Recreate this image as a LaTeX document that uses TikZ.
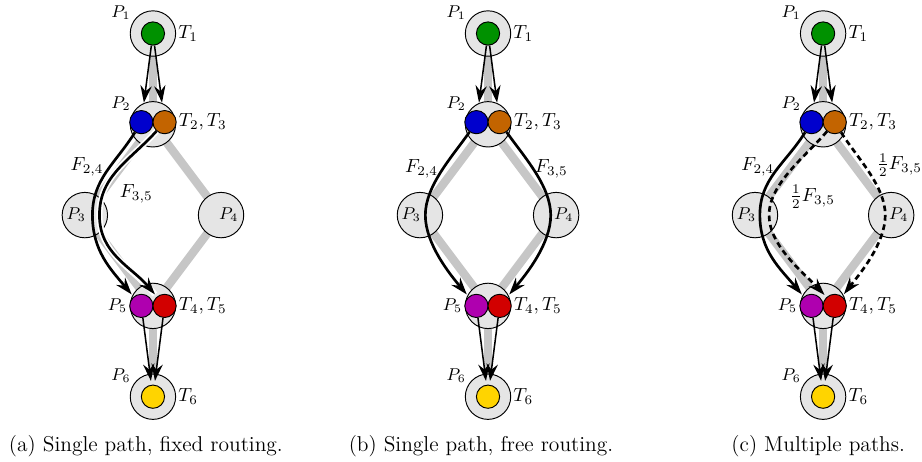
\documentclass[tikz,border=0pt]{standalone}
\usetikzlibrary{arrows.meta,backgrounds}

\definecolor{tgreen}{RGB}{0,145,0}
\definecolor{tblue}{RGB}{0,0,205}
\definecolor{torange}{RGB}{195,100,0}
\definecolor{tpurple}{RGB}{175,0,175}
\definecolor{tred}{RGB}{210,0,0}
\definecolor{tyellow}{RGB}{255,212,0}

% processors, links and tasks, all names start with #1
\newcommand{\platform}[1]{
  \node [proc] (#1p1) at (0,6.72) {};
  \node [proc] (#1p2) at (0,5.04) {};
  \node [proc] (#1p3) at (-1.26,3.36) {};
  \node [proc] (#1p4) at (1.26,3.36) {};
  \node [proc] (#1p5) at (0,1.68) {};
  \node [proc] (#1p6) at (0,0) {};
  \begin{pgfonlayer}{background}
    \path[link] (#1p1.center) -- (#1p2.center);
    \path[link] (#1p2.center) -- (#1p3.center);
    \path[link] (#1p2.center) -- (#1p4.center);
    \path[link] (#1p3.center) -- (#1p5.center);
    \path[link] (#1p4.center) -- (#1p5.center);
    \path[link] (#1p5.center) -- (#1p6.center);
  \end{pgfonlayer}
  \node [task,fill=tgreen] (#1t1) at (#1p1) {};
  \node [task,fill=tblue] (#1t2) at ([shift={(-0.215,0.04)}]#1p2.center) {};
  \node [task,fill=torange] (#1t3) at ([shift={(0.215,0.04)}]#1p2.center) {};
  \node [task,fill=tpurple] (#1t4) at ([xshift=-0.215cm]#1p5.center) {};
  \node [task,fill=tred] (#1t5) at ([xshift=0.215cm]#1p5.center) {};
  \node [task,fill=tyellow] (#1t6) at (#1p6) {};
  \node [plab,anchor=south east] (#1n1) at (#1p1.150) {$P_1$};
  \node [plab,anchor=south east] (#1n2) at (#1p2.150) {$P_2$};
  \node [plab] (#1n3) at ([xshift=-0.16cm]#1p3.center) {$P_3$};
  \node [plab] (#1n4) at ([xshift=0.14cm]#1p4.center) {$P_4$};
  \node [plab,anchor=east] (#1n5) at (#1t4.west) {$P_5$};
  \node [plab,anchor=south east] (#1n6) at (#1p6.150) {$P_6$};
  \node [tlab] (#1m1) at (#1p1.east) {$T_1$};
  \node [tlab] (#1m2) at (#1t3.east) {$T_2, T_3$};
  \node [tlab] (#1m3) at (#1t5.east) {$T_4, T_5$};
  \node [tlab] (#1m4) at (#1p6.east) {$T_6$};
  \draw[flow,shorten >=4pt] (#1t1) -- (#1t2);
  \draw[flow,shorten >=4pt] (#1t1) -- (#1t3);
  \draw[flow,shorten >=2pt] (#1t4) -- (#1t6);
  \draw[flow,shorten >=2pt] (#1t5) -- (#1t6);
}

\begin{document}
\begin{tikzpicture}[shorten >=1.5pt,>={Stealth[length=9pt,width=6pt,inset=3pt]}]
  \tikzstyle{proc}=[circle,draw=black,line width=0.5pt,fill=black!10,minimum size=8.4mm,inner sep=0pt]
  \tikzstyle{task}=[circle,draw=black,line width=0.5pt,minimum size=4.3mm,inner sep=0pt]
  \tikzstyle{link}=[draw=gray!45,line width=4.4pt]
  \tikzstyle{plab}=[font=\small,inner sep=1pt]
  \tikzstyle{tlab}=[anchor=west,inner sep=1pt]
  \tikzstyle{flow}=[draw,->,line width=0.8pt]
  \tikzstyle{route}=[draw,->,line width=1.4pt]
  \tikzstyle{split}=[route,dash pattern=on 3pt off 2pt]
  \tikzstyle{halo}=[preaction={draw=white,-,line width=3.2pt}]
  \tikzstyle{subcap}=[anchor=base,font=\fontsize{11.3}{13.6}\selectfont]
  \useasboundingbox (-2.83,-1.2) rectangle (14.23,7.34);
  % (a) single path, fixed routing
  \begin{scope}
    \platform{a}
    \coordinate (av24) at ([xshift=0.14cm]ap3.center);
    \coordinate (av35) at ([xshift=0.27cm]ap3.center);
    \draw[route] (at2) to[out=-122,in=90] (av24) to[out=-90,in=130] (at4);
    \draw[route,halo] (at3) to[out=-132,in=90] (av35) to[out=-90,in=130] (at5);
    \node (af24) at (-1.22,4.26) {$F_{2,4}$};
    \node (af35) at (-0.31,3.76) {$F_{3,5}$};
    \node[subcap] (acap) at (-0.13,-1.02) {(a) Single path, fixed routing.};
  \end{scope}
  % (b) single path, free routing
  \begin{scope}[xshift=6.2cm]
    \platform{b}
    \coordinate (bv24) at ([xshift=0.1cm]bp3.center);
    \coordinate (bv35) at ([xshift=-0.1cm]bp4.center);
    \draw[route] (bt2) to[out=-125,in=90,looseness=0.8] (bv24) to[out=-90,in=130,looseness=0.8] (bt4);
    \draw[route] (bt3) to[out=-55,in=90,looseness=0.8] (bv35) to[out=-90,in=50,looseness=0.8] (bt5);
    \node (bf24) at (-1.23,4.22) {$F_{2,4}$};
    \node (bf35) at (1.17,4.22) {$F_{3,5}$};
    \node[subcap] (bcap) at (-0.13,-1.02) {(b) Single path, free routing.};
  \end{scope}
  % (c) multiple paths
  \begin{scope}[xshift=12.4cm]
    \platform{c}
    \coordinate (cv24) at ([xshift=0.09cm]cp3.center);
    \coordinate (cv35) at ([xshift=0.26cm]cp3.center);
    \coordinate (cw35) at ([xshift=-0.11cm]cp4.center);
    \draw[route] (ct2) to[out=-122,in=90] (cv24) to[out=-90,in=130] (ct4);
    \draw[split] (ct3) to[out=-130,in=90,looseness=0.8] (cv35) to[out=-90,in=133,looseness=0.8] (ct5);
    \draw[split] (ct3) to[out=-58,in=90,looseness=0.8] (cw35) to[out=-90,in=52,looseness=0.8] (ct5);
    \node (cf24) at (-1.21,4.26) {$F_{2,4}$};
    \node (cf35) at (-0.2,3.7) {$\frac{1}{2}F_{3,5}$};
    \node (cg35) at (1.41,4.29) {$\frac{1}{2}F_{3,5}$};
    \node[subcap] (ccap) at (-0.09,-1.02) {(c) Multiple paths.};
  \end{scope}
\end{tikzpicture}
\end{document}
